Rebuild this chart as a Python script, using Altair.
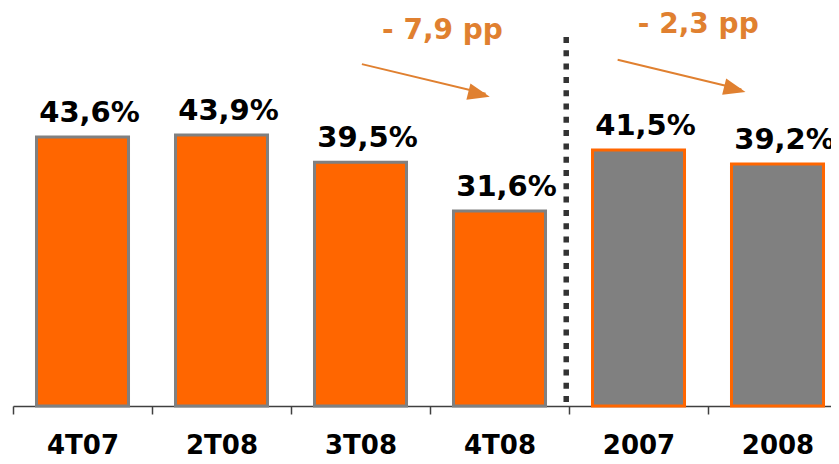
import json
import altair as alt
import pandas as pd

# ---- data ----
categories = ["4T07", "2T08", "3T08", "4T08", "2007", "2008"]
values = [43.6, 43.9, 39.5, 31.6, 41.5, 39.2]
kinds = ["q", "q", "q", "q", "y", "y"]

# annotation data (in chart units: x = category slot index, y = percent)
ann_texts = ["- 7,9 pp", "- 2,3 pp"]
ann_text_x = [3.09, 4.93]
ann_text_y = [59.5, 60.5]
arrow_ids = ["a1", "a1", "a2", "a2"]
arrow_x = [2.51, 3.40, 4.35, 5.24]
arrow_y = [55.4, 50.6, 56.1, 51.3]
head_x = [3.43, 5.27]
head_y = [50.1, 50.9]
sep_x = [3.98]
sep_top = [59.8]

ORANGE = "#FF6600"
GREY = "#808080"
ANN = "#E08030"
FONT = "DejaVu Sans"

W = 818          # visible plot width (keeps the page inside the window)
STEP = 139       # width of one category slot in px
NB = W / STEP    # slots visible (the last slot runs slightly past the edge)
BAR = 0.662      # bar width as a fraction of a slot

df = pd.DataFrame({"cat": categories, "val": values, "kind": kinds})
df["idx"] = range(len(categories))
df["x0"] = df["idx"] + (1 - BAR) / 2
df["x1"] = df["idx"] + 1 - (1 - BAR) / 2
df["xc"] = df["idx"] + 0.5
df["lab"] = [f"{v:.1f}".replace(".", ",") + "%" for v in values]

Y = alt.Scale(domain=[0, 64.5], nice=False, zero=True)
XQ = alt.Scale(domain=[0, NB], nice=False, zero=False)

label_expr = json.dumps(categories) + "[datum.value]"

bars = alt.Chart(df).mark_bar(strokeWidth=3).encode(
    x=alt.X("x0:Q", scale=XQ, title=None,
            axis=alt.Axis(values=list(range(len(categories))), labelExpr=label_expr,
                          labelOffset=STEP / 2, labelFlush=False, labelOverlap=False,
                          labelAngle=0, labelFont=FONT, labelFontSize=26,
                          labelFontWeight="bold", labelColor="black",
                          labelPadding=18, tickSize=8,
                          domainColor="#404040", tickColor="#404040",
                          domainWidth=1.5, tickWidth=1.5, grid=False)),
    x2="x1:Q",
    y=alt.Y("val:Q", scale=Y, axis=None),
    y2=alt.datum(0),
    fill=alt.Fill("kind:N", scale=alt.Scale(domain=["q", "y"], range=[ORANGE, GREY]), legend=None),
    stroke=alt.Stroke("kind:N", scale=alt.Scale(domain=["q", "y"], range=[GREY, ORANGE]), legend=None),
)

labels = alt.Chart(df).mark_text(font=FONT, fontSize=29, fontWeight="bold",
                                 color="black", baseline="alphabetic", dx=7, dy=-15).encode(
    x=alt.X("xc:Q", scale=XQ, axis=None),
    y=alt.Y("val:Q", scale=Y, axis=None),
    text="lab:N",
)

sep = alt.Chart(pd.DataFrame({"x": sep_x, "top": sep_top})).mark_rule(
    color="#333333", strokeWidth=5.5, strokeDash=[6, 7.3]).encode(
    x=alt.X("x:Q", scale=XQ, axis=None),
    y=alt.Y("top:Q", scale=Y, axis=None),
    y2=alt.datum(0),
)

arrow_lines = alt.Chart(pd.DataFrame({"id": arrow_ids, "x": arrow_x, "y": arrow_y})).mark_line(
    color=ANN, strokeWidth=2).encode(
    x=alt.X("x:Q", scale=XQ, axis=None),
    y=alt.Y("y:Q", scale=Y, axis=None),
    detail="id:N",
)

heads = alt.Chart(pd.DataFrame({"x": head_x, "y": head_y})).mark_point(
    shape="M0,0 L-1,-0.38 L-1,0.38 Z", size=1936, filled=True, opacity=1,
    color=ANN, angle=14).encode(
    x=alt.X("x:Q", scale=XQ, axis=None),
    y=alt.Y("y:Q", scale=Y, axis=None),
)

ann = alt.Chart(pd.DataFrame({"t": ann_texts, "x": ann_text_x, "y": ann_text_y})).mark_text(
    font=FONT, fontSize=28, fontWeight="bold", color=ANN, baseline="alphabetic", align="center").encode(
    x=alt.X("x:Q", scale=XQ, axis=None),
    y=alt.Y("y:Q", scale=Y, axis=None),
    text="t:N",
)

chart = alt.layer(bars, labels, sep, arrow_lines, heads, ann).resolve_scale(
    x="independent"
).properties(
    width=W, height=398,
    autosize=alt.AutoSizeParams(type="none"),
    padding={"left": 5, "top": 0, "right": 0, "bottom": 50},
).configure_view(stroke=None)

chart.save("out.html", embed_options={"renderer": "svg", "actions": False})
